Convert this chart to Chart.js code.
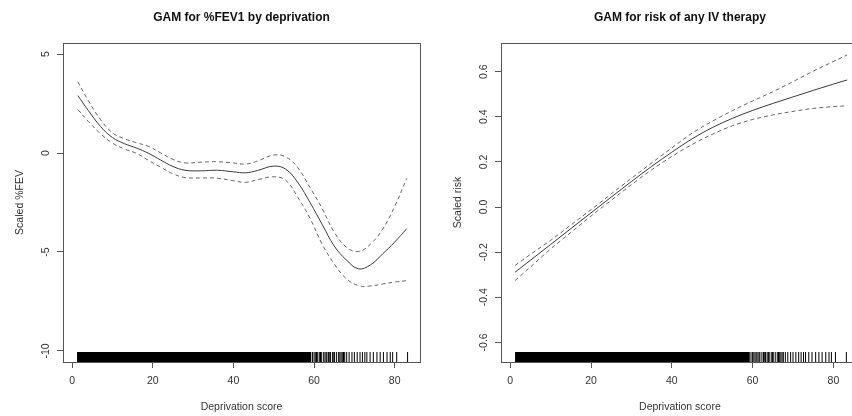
<!DOCTYPE html>
<html>
<head>
<meta charset="utf-8">
<script src="https://cdn.jsdelivr.net/npm/chart.js@4.4.1/dist/chart.umd.min.js"></script>
<style>
    html, body { margin: 0; padding: 0; background: #fff; overflow: hidden; }
    #wrap { position: relative; width: 852px; height: 416px; overflow: hidden; }
    #fevChart { position: absolute; left: 0; top: 0; }
    #riskChart { position: absolute; left: 426px; top: 0; }
</style>
</head>
<body>
<div id="wrap">
    <canvas id="fevChart" width="426" height="416"></canvas>
    <canvas id="riskChart" width="440" height="416"></canvas>
</div>
<script>
// GAM for %FEV1
const fevX     = [1.4, 4, 7, 10, 13, 16, 19, 22, 25, 28, 32, 36, 40, 43, 46, 50, 53, 56, 59, 62, 65, 68, 71, 74, 77, 80, 83];
const fevFit   = [2.9, 2.15, 1.35, 0.78, 0.47, 0.25, -0.02, -0.36, -0.68, -0.87, -0.9, -0.87, -0.95, -1.0, -0.88, -0.66, -0.82, -1.5, -2.5, -3.6, -4.7, -5.4, -5.85, -5.65, -5.1, -4.5, -3.82];
const fevUpper = [3.6, 2.65, 1.7, 1.02, 0.72, 0.52, 0.33, 0.0, -0.32, -0.5, -0.46, -0.44, -0.5, -0.56, -0.4, -0.1, -0.2, -0.75, -1.75, -2.8, -4.0, -4.75, -4.98, -4.6, -3.85, -2.7, -1.28];
const fevLower = [2.2, 1.6, 0.98, 0.5, 0.2, -0.02, -0.38, -0.72, -1.05, -1.24, -1.26, -1.27, -1.4, -1.48, -1.35, -1.2, -1.38, -2.25, -3.3, -4.6, -5.6, -6.35, -6.7, -6.72, -6.62, -6.52, -6.45];

// GAM for risk of any IV therapy
const riskX     = [1.2, 5, 10, 15, 20, 25, 30, 35, 40, 45, 50, 55, 60, 65, 70, 75, 80, 83.4];
const riskFit   = [-0.289, -0.236, -0.166, -0.096, -0.026, 0.044, 0.113, 0.18, 0.243, 0.302, 0.352, 0.393, 0.428, 0.459, 0.488, 0.517, 0.545, 0.563];
const riskUpper = [-0.259, -0.21, -0.148, -0.08, -0.012, 0.058, 0.127, 0.195, 0.262, 0.327, 0.38, 0.427, 0.47, 0.511, 0.556, 0.602, 0.645, 0.674];
const riskLower = [-0.326, -0.266, -0.186, -0.113, -0.04, 0.03, 0.099, 0.165, 0.224, 0.277, 0.322, 0.36, 0.388, 0.408, 0.424, 0.437, 0.445, 0.449];

// rug of deprivation scores: solid run, then single observations
const rugBlocks = [[1.2, 59.3]];
const rugScores = [59.6, 60.0, 60.3, 60.6, 60.9, 61.3, 61.6, 61.8, 62.3, 62.7, 63.0, 63.2, 63.6, 63.9, 64.1, 64.6, 64.9, 65.1, 65.6,
    66.1, 66.4, 66.7, 67.0, 67.3, 67.6, 68.1, 68.7, 69.4, 70.0, 70.7, 71.4, 72.0, 72.6,
    73.1, 73.9, 74.7, 75.6, 76.4, 77.2, 78.1, 78.9, 79.5, 80.5, 83.2];

const xTicks = [0, 20, 40, 60, 80];
const fevTicks = [-10, -5, 0, 5];
const riskTicks = [-0.6, -0.4, -0.2, 0.0, 0.2, 0.4, 0.6];

const FONT = "'Liberation Sans', Arial, Helvetica, sans-serif";
const INK = '#555';

function pts(xs, ys) {
    return xs.map((x, i) => ({ x: x, y: ys[i] }));
}

// box, title, rotated y labels and rug, R style
const rPlot = {
    id: 'rPlot',
    afterDraw(chart, args, opts) {
        const ctx = chart.ctx;
        const a = chart.chartArea;
        const xs = chart.scales.x;
        const ys = chart.scales.y;
        ctx.save();

        // rug
        ctx.fillStyle = '#000';
        rugBlocks.forEach(function (b) {
            const x0 = xs.getPixelForValue(b[0]);
            const x1 = xs.getPixelForValue(b[1]);
            ctx.fillRect(x0, a.bottom - 10, x1 - x0, 10);
        });
        ctx.strokeStyle = '#000';
        ctx.lineWidth = 1;
        rugScores.forEach(function (v) {
            const px = xs.getPixelForValue(v);
            ctx.beginPath();
            ctx.moveTo(px, a.bottom);
            ctx.lineTo(px, a.bottom - 10);
            ctx.stroke();
        });

        // box
        ctx.strokeStyle = INK;
        ctx.strokeRect(Math.round(a.left) + 0.5, Math.round(a.top) + 0.5,
            Math.round(a.right - a.left), Math.round(a.bottom - a.top));

        // title
        ctx.fillStyle = '#111';
        ctx.font = 'bold 12px ' + FONT;
        ctx.textAlign = 'center';
        ctx.textBaseline = 'middle';
        ctx.fillText(opts.title, (a.left + a.right) / 2, 18);

        // y tick labels, parallel to the axis
        ctx.fillStyle = '#333';
        ctx.font = '10.5px ' + FONT;
        opts.yTicks.forEach(function (v) {
            const py = ys.getPixelForValue(v);
            ctx.save();
            ctx.translate(a.left - 17, py);
            ctx.rotate(-Math.PI / 2);
            ctx.fillText(v.toFixed(opts.digits), 0, 0);
            ctx.restore();
        });
        ctx.restore();
    }
};

function makeChart(id, cfg) {
    const dashed = { borderColor: '#666', borderWidth: 1, borderDash: [4, 3] };
    return new Chart(document.getElementById(id), {
        type: 'scatter',
        data: {
            datasets: [
                Object.assign({ data: pts(cfg.x, cfg.upper) }, dashed),
                Object.assign({ data: pts(cfg.x, cfg.lower) }, dashed),
                { data: pts(cfg.x, cfg.fit), borderColor: '#3a3a3a', borderWidth: 1 }
            ]
        },
        options: {
            responsive: false,
            animation: false,
            devicePixelRatio: 1,
            showLine: true,
            elements: {
                point: { radius: 0, hoverRadius: 0 },
                line: Object.assign({ fill: false }, cfg.curve)
            },
            layout: { padding: { top: 43, right: cfg.padRight, left: 0, bottom: 0 } },
            plugins: {
                legend: { display: false },
                tooltip: { enabled: false },
                rPlot: { title: cfg.title, yTicks: cfg.yTicks, digits: cfg.digits }
            },
            scales: {
                x: {
                    type: 'linear',
                    min: -2.28,
                    max: 86.28,
                    afterBuildTicks: s => { s.ticks = xTicks.map(v => ({ value: v })); },
                    afterFit: s => { s.height = 54; },
                    border: { display: true, color: INK },
                    grid: { drawOnChartArea: false, drawTicks: true, tickLength: 6, color: INK },
                    ticks: { color: '#333', padding: 7, maxRotation: 0, font: { family: FONT, size: 10.5 } },
                    title: { display: true, text: 'Deprivation score', color: '#333',
                        padding: { top: 0, bottom: 3 }, font: { family: FONT, size: 10.5 } }
                },
                y: {
                    type: 'linear',
                    min: cfg.yMin,
                    max: cfg.yMax,
                    afterBuildTicks: s => { s.ticks = cfg.yTicks.map(v => ({ value: v })); },
                    afterFit: s => { s.width = cfg.left; },
                    border: { display: true, color: INK },
                    grid: { drawOnChartArea: false, drawTicks: true, tickLength: 6, color: INK },
                    ticks: { display: false },
                    title: { display: true, text: cfg.yTitle, color: '#333',
                        padding: { top: cfg.left - 49, bottom: 0 }, font: { family: FONT, size: 10.5 } }
                }
            }
        },
        plugins: [rPlot]
    });
}

makeChart('fevChart', {
    title: 'GAM for %FEV1 by deprivation',
    yTitle: 'Scaled %FEV',
    x: fevX, fit: fevFit, upper: fevUpper, lower: fevLower,
    yMin: -10.56, yMax: 5.56, yTicks: fevTicks, digits: 0,
    left: 63, padRight: 6,
    curve: { tension: 0.4 }
});

makeChart('riskChart', {
    title: 'GAM for risk of any IV therapy',
    yTitle: 'Scaled risk',
    x: riskX, fit: riskFit, upper: riskUpper, lower: riskLower,
    yMin: -0.687, yMax: 0.727, yTicks: riskTicks, digits: 1,
    left: 75, padRight: 7.2,
    curve: { cubicInterpolationMode: 'monotone' }
});
</script>
</body>
</html>
